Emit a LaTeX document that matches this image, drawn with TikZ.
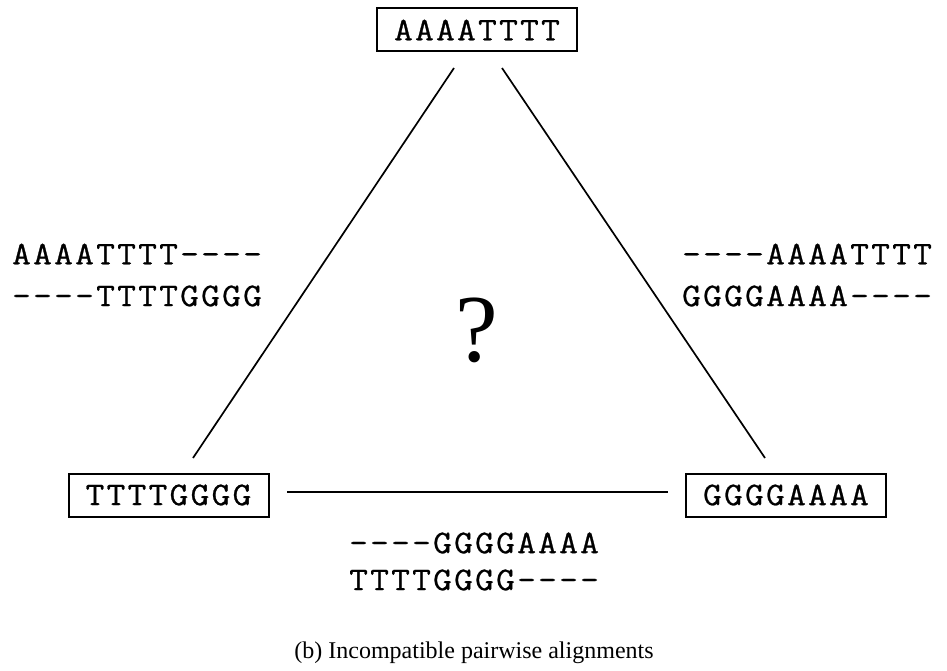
\documentclass[tikz,border=0pt]{standalone}
\usepackage{fontspec}
\setmainfont{Liberation Serif}
\newfontfamily\seqfont{Latin Modern Mono}[FakeStretch=1.1,LetterSpace=7,FakeBold=0.8]
\begin{document}
\begin{tikzpicture}[x=1pt,y=-1pt,
  seqbox/.style={draw=black,line width=2pt,minimum width=200pt,minimum height=43pt,inner sep=0pt,font=\seqfont\fontsize{33}{40}\selectfont},
  seqtxt/.style={inner sep=0pt,font=\seqfont\fontsize{33}{40}\selectfont,align=left},
  edge/.style={line width=1.7pt}]
\useasboundingbox (0,0) rectangle (947,671);
\node[seqbox] (top) at (477,30) {AAAATTTT};
\node[seqbox] (left) at (168.5,495) {TTTTGGGG};
\node[seqbox] (right) at (786,495) {GGGGAAAA};
\coordinate (t1) at (454,68); \coordinate (l1) at (193,458);
\coordinate (t2) at (502,68); \coordinate (r1) at (765,458);
\coordinate (l2) at (287,492); \coordinate (r2) at (668,492);
\draw[edge] (t1) -- (l1);
\draw[edge] (t2) -- (r1);
\draw[edge] (l2) -- (r2);
\node[seqtxt,anchor=west] (la) at (12,254) {AAAATTTT----};
\node[seqtxt,anchor=west] (lb) at (12,296) {----TTTTGGGG};
\node[seqtxt,anchor=west] (ra) at (682,254) {----AAAATTTT};
\node[seqtxt,anchor=west] (rb) at (682,296) {GGGGAAAA----};
\node[seqtxt,anchor=west] (ba) at (349,543) {----GGGGAAAA};
\node[seqtxt,anchor=west] (bb) at (349,580) {TTTTGGGG----};
\node[inner sep=0pt,font=\fontsize{96}{100}\selectfont] (q) at (477,330) {?};
\node[inner sep=0pt,font=\fontsize{24}{26}\selectfont] (cap) at (474,653) {(b) Incompatible pairwise alignments};
\end{tikzpicture}
\end{document}
